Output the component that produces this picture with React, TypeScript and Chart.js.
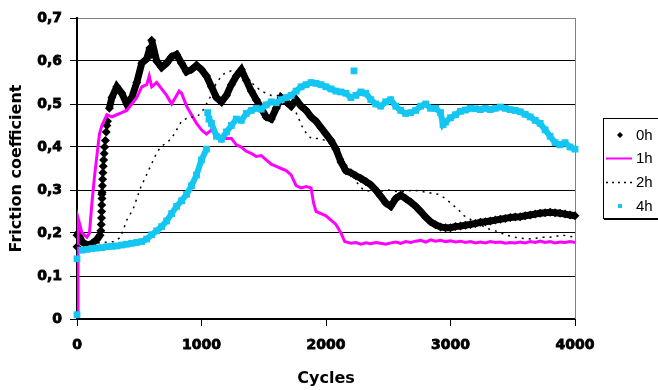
import React, { useEffect, useRef } from 'react';
import { Chart, registerables } from 'chart.js';

Chart.register(...registerables);

const seriesLabels = ['0h', '1h', '2h', '4h'];
const xTickValues = [0, 1000, 2000, 3000, 4000];
const yTickValues = [0, 0.1, 0.2, 0.3, 0.4, 0.5, 0.6, 0.7];

// common sampling grid (cycles) for the marker series
const gridCycles = [
  0, 40, 80, 120, 160, 200, 240, 280, 320, 360,
  400, 440, 480, 520, 560, 600, 640, 680, 720, 760,
  800, 840, 880, 920, 960, 1000, 1040, 1080, 1120, 1160,
  1200, 1240, 1280, 1320, 1360, 1400, 1440, 1480, 1520, 1560,
  1600, 1640, 1680, 1720, 1760, 1800, 1840, 1880, 1920, 1960,
  2000, 2040, 2080, 2120, 2160, 2200, 2240, 2280, 2320, 2360,
  2400, 2440, 2480, 2520, 2560, 2600, 2640, 2680, 2720, 2760,
  2800, 2840, 2880, 2920, 2960, 3000, 3040, 3080, 3120, 3160,
  3200, 3240, 3280, 3320, 3360, 3400, 3440, 3480, 3520, 3560,
  3600, 3640, 3680, 3720, 3760, 3800, 3840, 3880, 3920, 3960,
  4000,
];

// 0h (black diamonds)
const values0h = [
  0.195, 0.18, 0.172, 0.175, 0.185, 0.29, 0.45, 0.515, 0.54, 0.525,
  0.5, 0.515, 0.55, 0.595, 0.605, 0.615, 0.6, 0.585, 0.595, 0.61,
  0.615, 0.595, 0.575, 0.58, 0.59, 0.58, 0.565, 0.54, 0.515, 0.505,
  0.52, 0.545, 0.565, 0.58, 0.555, 0.53, 0.51, 0.49, 0.47, 0.465,
  0.49, 0.515, 0.505, 0.495, 0.51, 0.495, 0.485, 0.47, 0.46, 0.445,
  0.43, 0.415, 0.395, 0.365, 0.345, 0.34, 0.333, 0.327, 0.32, 0.312,
  0.3, 0.285, 0.27, 0.262, 0.28, 0.288, 0.28, 0.272, 0.262, 0.25,
  0.237, 0.226, 0.219, 0.214, 0.212, 0.212, 0.215, 0.216, 0.218, 0.22,
  0.222, 0.225, 0.226, 0.228, 0.23, 0.232, 0.234, 0.236, 0.237, 0.238,
  0.24, 0.242, 0.244, 0.246, 0.247, 0.248, 0.247, 0.246, 0.244, 0.242,
  0.24,
];
const extra0hCycles = [0, 10, 585, 600, 185, 192, 195, 197, 198, 199, 201, 202, 204, 206, 208, 211, 214, 218, 222, 228, 235, 245, 260];
const extra0hValues = [0.168, 0.2, 0.63, 0.648, 0.195, 0.205, 0.22, 0.235, 0.25, 0.265, 0.28, 0.295, 0.31, 0.325, 0.34, 0.355, 0.37, 0.385, 0.4, 0.415, 0.435, 0.46, 0.49];

// 1h (magenta line)
const cycles1h = [
  0, 8, 40, 80, 100, 120, 140, 160, 180, 200,
  240, 280, 320, 360, 400, 440, 480, 520, 560, 580,
  600, 640, 680, 720, 760, 800, 820, 840, 880, 920,
  960, 1000, 1040, 1080, 1120, 1160, 1200, 1240, 1280, 1320,
  1360, 1400, 1440, 1480, 1520, 1560, 1600, 1640, 1680, 1720,
  1760, 1800, 1840, 1880, 1900, 1920, 1960, 2000, 2040, 2080,
  2120, 2150,
  2200, 2240, 2280, 2320, 2360, 2400, 2440, 2480, 2520, 2560,
  2600, 2640, 2680, 2720, 2760, 2800, 2840, 2880, 2920, 2960,
  3000, 3040, 3080, 3120, 3160, 3200, 3240, 3280, 3320, 3360,
  3400, 3440, 3480, 3520, 3560, 3600, 3640, 3680, 3720, 3760,
  3800, 3840, 3880, 3920, 3960, 4000,
];
const values1h = [
  0.01, 0.235, 0.2, 0.19, 0.2, 0.27, 0.33, 0.38, 0.43, 0.45,
  0.475, 0.47, 0.475, 0.48, 0.485, 0.5, 0.515, 0.54, 0.545, 0.565,
  0.54, 0.55, 0.535, 0.52, 0.5, 0.52, 0.53, 0.525, 0.495, 0.475,
  0.455, 0.44, 0.43, 0.44, 0.425, 0.425, 0.42, 0.42, 0.405, 0.4,
  0.39, 0.385, 0.378, 0.38, 0.37, 0.36, 0.355, 0.35, 0.345, 0.335,
  0.31, 0.305, 0.308, 0.305, 0.27, 0.25, 0.245, 0.24, 0.23, 0.22,
  0.2, 0.18,
  0.176, 0.178, 0.174, 0.177, 0.175, 0.178, 0.176, 0.174, 0.177, 0.179,
  0.176, 0.18, 0.178, 0.181, 0.183, 0.179, 0.184, 0.181, 0.183, 0.18,
  0.182, 0.179, 0.181, 0.178, 0.18, 0.177, 0.179, 0.177, 0.18, 0.178,
  0.179, 0.176, 0.178, 0.177, 0.179, 0.177, 0.18, 0.178, 0.181, 0.178,
  0.18, 0.177, 0.179, 0.178, 0.18, 0.178,
];

// 2h (black dotted)
const cycles2h = [
  0, 100, 200, 300, 350, 400, 450, 510, 550, 590,
  630, 670, 720, 760, 800, 840, 900, 960, 1000, 1060,
  1120, 1180, 1260, 1320, 1400, 1480, 1560, 1640, 1700, 1760,
  1820, 1880, 1940, 2000, 2060, 2120, 2180, 2240, 2300, 2400,
  2500, 2600, 2700, 2800, 2900, 2960, 3000, 3060, 3110, 3200,
  3300, 3360, 3450, 3550, 3650, 3730, 3800, 3900, 4000,
];
const values2h = [
  0.17, 0.175, 0.178, 0.18, 0.19, 0.23, 0.255, 0.305, 0.33, 0.355,
  0.38, 0.4, 0.41, 0.42, 0.44, 0.46, 0.47, 0.47, 0.48, 0.51,
  0.55, 0.57, 0.58, 0.57, 0.55, 0.53, 0.52, 0.52, 0.51, 0.48,
  0.44, 0.42, 0.42, 0.415, 0.4, 0.38, 0.35, 0.32, 0.3, 0.295,
  0.3, 0.295, 0.3, 0.295, 0.29, 0.28, 0.27, 0.255, 0.24, 0.225,
  0.21, 0.205, 0.195, 0.188, 0.186, 0.19, 0.19, 0.195, 0.19,
];

// 4h (cyan squares)
const values4h = [
  0.14, 0.16, 0.162, 0.164, 0.165, 0.166, 0.168, 0.169, 0.17, 0.172,
  0.174, 0.176, 0.178, 0.18, 0.186, 0.196, 0.205, 0.215, 0.228, 0.245,
  0.262, 0.275, 0.29, 0.31, 0.335, 0.37, 0.395, 0.455, 0.425, 0.418,
  0.435, 0.45, 0.465, 0.462, 0.478, 0.485, 0.49, 0.488, 0.498, 0.505,
  0.503, 0.51, 0.515, 0.52, 0.53, 0.54, 0.545, 0.55, 0.548, 0.545,
  0.54, 0.535, 0.53, 0.528, 0.525, 0.515, 0.52, 0.528, 0.525, 0.51,
  0.5, 0.495, 0.505, 0.51, 0.495, 0.485, 0.478, 0.48, 0.485, 0.495,
  0.5, 0.49, 0.49, 0.48, 0.458, 0.468, 0.475, 0.483, 0.486, 0.49,
  0.489, 0.487, 0.49, 0.487, 0.49, 0.493, 0.49, 0.487, 0.485, 0.482,
  0.476, 0.47, 0.462, 0.455, 0.44, 0.425, 0.41, 0.405, 0.41, 0.4,
  0.395,
];
const extra4hCycles = [0, 1050, 1060, 2225, 2940];
const extra4hValues = [0.01, 0.48, 0.465, 0.577, 0.452];

const toPoints = (xs: number[], ys: number[]) => xs.map((x, i) => ({ x, y: ys[i] }));
const merged = (a: { x: number; y: number }[], b: { x: number; y: number }[]) =>
  [...a, ...b].sort((p, q) => p.x - q.x);

const COLORS = { h0: '#000000', h1: '#FF00FF', h2: '#000000', h4: '#14C6F2' };

// hide near-vertical or big-jump segments so the marker bands look like dense scatter
const bandSegment = {
  borderColor: (c: any) => {
    const dx = Math.abs(c.p1.x - c.p0.x);
    const dy = Math.abs(c.p1.y - c.p0.y);
    return dx < 2 || dy > 24 ? 'rgba(0,0,0,0)' : undefined;
  },
};

const legendPlugin = {
  id: 'boxLegend',
  afterDraw(chart: any) {
    const ctx = chart.ctx as CanvasRenderingContext2D;
    ctx.save();
    ctx.fillStyle = '#ffffff';
    ctx.fillRect(603.5, 118.5, 70, 100);
    ctx.strokeStyle = '#000';
    ctx.lineWidth = 1;
    ctx.strokeRect(603.5, 118.5, 70, 100);
    ctx.beginPath();
    ctx.moveTo(604, 219.5);
    ctx.lineTo(660, 219.5);
    ctx.stroke();
    const rows = [135, 158, 182, 206];
    chart.data.datasets.forEach((ds: any, i: number) => {
      const y = rows[i];
      const kind = ds.legendKind;
      if (kind === 'diamond') {
        ctx.fillStyle = ds.backgroundColor;
        ctx.beginPath();
        ctx.moveTo(620, y - 3);
        ctx.lineTo(623, y);
        ctx.lineTo(620, y + 3);
        ctx.lineTo(617, y);
        ctx.closePath();
        ctx.fill();
      } else if (kind === 'square') {
        ctx.fillStyle = ds.backgroundColor;
        ctx.fillRect(618, y - 2, 4, 4);
      } else {
        ctx.strokeStyle = ds.borderColor;
        ctx.lineWidth = kind === 'dash' ? 1.5 : 2;
        ctx.setLineDash(kind === 'dash' ? [2, 4] : []);
        ctx.beginPath();
        ctx.moveTo(606, y + 0.5);
        ctx.lineTo(632, y + 0.5);
        ctx.stroke();
        ctx.setLineDash([]);
      }
      ctx.fillStyle = '#000';
      ctx.font = '15px "Liberation Sans", Arial, sans-serif';
      ctx.textBaseline = 'middle';
      ctx.textAlign = 'left';
      ctx.fillText(ds.label, 636, y + 1);
    });
    ctx.restore();
  },
};

const framePlugin = {
  id: 'frame',
  beforeDatasetsDraw(chart: any) {
    const { ctx, chartArea } = chart;
    ctx.save();
    ctx.strokeStyle = '#808080';
    ctx.lineWidth = 1;
    ctx.beginPath();
    ctx.moveTo(chartArea.right + 0.5, chartArea.top);
    ctx.lineTo(chartArea.right + 0.5, chartArea.bottom);
    ctx.stroke();
    ctx.restore();
  },
};

export default function App() {
  const ref = useRef<HTMLCanvasElement | null>(null);

  useEffect(() => {
    if (!ref.current) return;
    const tickFont = { family: '"DejaVu Sans", sans-serif', weight: 'bold' as const, size: 14 };
    const titleFont = { family: '"DejaVu Sans", sans-serif', weight: 'bold' as const, size: 16 };
    const chart = new Chart(ref.current, {
      type: 'scatter',
      data: {
        datasets: [
          {
            label: seriesLabels[0],
            legendKind: 'diamond',
            data: merged(toPoints(gridCycles, values0h), toPoints(extra0hCycles, extra0hValues)),
            backgroundColor: COLORS.h0,
            borderColor: COLORS.h0,
            borderWidth: 7,
            segment: bandSegment,
            pointStyle: 'rectRot',
            pointRadius: 4.5,
            pointBorderWidth: 0,
            showLine: true,
            tension: 0,
            order: 3,
            clip: false,
          } as any,
          {
            label: seriesLabels[1],
            legendKind: 'line',
            data: toPoints(cycles1h, values1h),
            borderColor: COLORS.h1,
            backgroundColor: COLORS.h1,
            borderWidth: 3,
            pointRadius: 0,
            showLine: true,
            tension: 0,
            order: 2,
          } as any,
          {
            label: seriesLabels[2],
            legendKind: 'dash',
            data: toPoints(cycles2h, values2h),
            borderColor: COLORS.h2,
            backgroundColor: COLORS.h2,
            borderWidth: 1.5,
            borderDash: [2, 5],
            pointRadius: 0,
            showLine: true,
            tension: 0,
            order: 1,
          } as any,
          {
            label: seriesLabels[3],
            legendKind: 'square',
            data: merged(toPoints(gridCycles, values4h), toPoints(extra4hCycles, extra4hValues)),
            backgroundColor: COLORS.h4,
            borderColor: COLORS.h4,
            borderWidth: 6,
            segment: bandSegment,
            pointStyle: 'rect',
            pointRadius: 4.8,
            pointBorderWidth: 0,
            showLine: true,
            tension: 0,
            order: 0,
            clip: false,
          } as any,
        ],
      },
      options: {
        animation: false,
        responsive: false,
        maintainAspectRatio: false,
        events: [],
        layout: { padding: { left: 0, top: 18, right: 83, bottom: 0 } },
        plugins: {
          legend: { display: false },
          tooltip: { enabled: false },
          title: { display: false },
        },
        scales: {
          x: {
            type: 'linear',
            min: 0,
            max: 4000,
            afterFit: (s: any) => { s.height = 71; },
            afterBuildTicks: (s: any) => { s.ticks = xTickValues.map((v) => ({ value: v })); },
            ticks: {
              font: tickFont,
              color: '#000',
              padding: 11,
              maxRotation: 0,
              autoSkip: false,
              textStrokeColor: '#000',
              textStrokeWidth: 0.8,
              callback: (v: any) => String(v),
            },
            grid: { drawOnChartArea: false, drawTicks: true, tickLength: 7, tickColor: '#000', tickWidth: 1 },
            border: { color: '#000', width: 2 },
            title: { display: true, text: 'Cycles', font: titleFont, color: '#000', padding: { top: 0, bottom: 2 } },
          },
          y: {
            type: 'linear',
            min: 0,
            max: 0.7,
            afterFit: (s: any) => { s.width = 77; },
            afterBuildTicks: (s: any) => { s.ticks = yTickValues.map((v) => ({ value: v })); },
            ticks: {
              font: tickFont,
              color: '#000',
              padding: 8,
              autoSkip: false,
              textStrokeColor: '#000',
              textStrokeWidth: 0.8,
              callback: (v: any) => (Number(v) === 0 ? '0' : Number(v).toFixed(1).replace('.', ',')),
            },
            grid: {
              color: (c: any) => (c.tick && Math.abs(c.tick.value - 0.7) < 1e-6 ? '#808080' : '#000'),
              lineWidth: 1,
              drawTicks: true,
              tickLength: 7,
              tickColor: '#000',
            },
            border: { color: '#000', width: 2 },
            title: { display: true, text: 'Friction coefficient', font: titleFont, color: '#000', padding: { top: 7, bottom: 0 } },
          },
        },
      },
      plugins: [framePlugin, legendPlugin],
    } as any);
    return () => chart.destroy();
  }, []);

  return (
    <div style={{ position: 'absolute', left: 0, top: 0, width: 658, height: 390, background: '#fff' }}>
      <canvas ref={ref} width={658} height={390} style={{ display: 'block' }} />
    </div>
  );
}
